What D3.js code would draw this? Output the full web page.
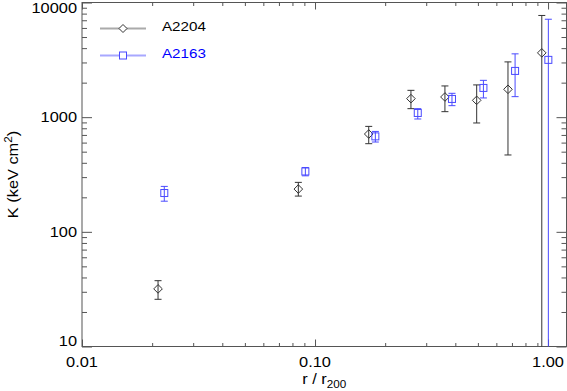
<!DOCTYPE html>
<html><head><meta charset="utf-8">
<script src="https://cdn.jsdelivr.net/npm/d3@7"></script>
<style>
html,body{margin:0;padding:0;background:#fff;}
svg text{font-family:"Liberation Sans",Arial,Helvetica,sans-serif;}
.st{transform-box:fill-box;transform:scaleX(1.17);}
.sc{transform-origin:50% 50%;}
.sr{transform-origin:100% 50%;}
.sl{transform-origin:0% 50%;}
</style></head>
<body>
<script>
// ---- data ----
const seriesNames = ["A2204", "A2163"];
const a2204_r  = [0.0212, 0.0848, 0.170, 0.258, 0.361, 0.494, 0.673, 0.94];
const a2204_K  = [31.8, 236, 713, 1451, 1500, 1402, 1750, 3637];
const a2204_hi = [37.5, 270, 831, 1714, 1872, 1911, 3034, 7709];
const a2204_lo = [25.8, 205, 587, 1186, 1117, 890, 468, 5];
const a2163_r  = [0.02255, 0.0909, 0.1815, 0.276, 0.387, 0.528, 0.722, 1.003];
const a2163_K  = [218, 336, 680, 1088, 1442, 1799, 2531, 3160];
const a2163_hi = [249, 364, 751, 1186, 1614, 2095, 3566, 7145];
const a2163_lo = [185, 308, 607, 964, 1260, 1471, 1510, 5];
const xTickValues = [0.01, 0.1, 1];
const xTickLabels = ["0.01", "0.10", "1.00"];
const yTickValues = [10, 100, 1000, 10000];
const yTickLabels = ["10", "100", "1000", "10000"];
const xDomain = [0.01, 1.2];
const yDomain = [10, 10000];

const W = 567, H = 391;
const L = 82, R = 566.5, T = 2.5, B = 346.5;
const black = "#333", blue = "#4a4aff";

const svg = d3.select("body").append("svg").attr("width", W).attr("height", H);
const x = d3.scaleLog().domain(xDomain).range([L, R]);
const y = d3.scaleLog().domain(yDomain).range([B, T]);

function minors(dom) {
  const out = [];
  for (let e = Math.floor(Math.log10(dom[0])); e <= Math.ceil(Math.log10(dom[1])); e++)
    for (let m = 2; m <= 9; m++) { const v = m * Math.pow(10, e); if (v > dom[0] && v < dom[1]) out.push(v); }
  return out;
}
const xMin = minors(xDomain), yMin = minors(yDomain);
const axCol = "#555";

function styleAxis(g) { g.select(".domain").remove(); g.selectAll("line").attr("stroke", axCol); g.selectAll("text").remove(); }
// ticks
svg.append("g").attr("transform", `translate(0,${B})`).call(d3.axisBottom(x).tickValues(xTickValues).tickSize(-7)).call(styleAxis);
svg.append("g").attr("transform", `translate(0,${B})`).call(d3.axisBottom(x).tickValues(xMin).tickSize(-3.5)).call(styleAxis);
svg.append("g").attr("transform", `translate(0,${T})`).call(d3.axisTop(x).tickValues(xTickValues).tickSize(-7)).call(styleAxis);
svg.append("g").attr("transform", `translate(0,${T})`).call(d3.axisTop(x).tickValues(xMin).tickSize(-3.5)).call(styleAxis);
svg.append("g").attr("transform", `translate(${L},0)`).call(d3.axisLeft(y).tickValues(yTickValues).tickSize(-10)).call(styleAxis);
svg.append("g").attr("transform", `translate(${L},0)`).call(d3.axisLeft(y).tickValues(yMin).tickSize(-5)).call(styleAxis);
svg.append("g").attr("transform", `translate(${R},0)`).call(d3.axisRight(y).tickValues(yTickValues).tickSize(-10)).call(styleAxis);
svg.append("g").attr("transform", `translate(${R},0)`).call(d3.axisRight(y).tickValues(yMin).tickSize(-5)).call(styleAxis);
// frame
svg.append("rect").attr("x", L).attr("y", T).attr("width", R - L).attr("height", B - T)
  .attr("fill", "none").attr("stroke", axCol).attr("stroke-width", 1);

// tick labels
svg.append("g").selectAll("text").data(xTickValues).join("text")
  .attr("class", "st sc").attr("x", d => x(d)).attr("y", 367)
  .attr("text-anchor", "middle").attr("font-size", 14).attr("fill", "#000")
  .text((d, i) => xTickLabels[i]);
svg.append("g").selectAll("text").data(yTickValues).join("text")
  .attr("class", "st sr").attr("x", 77)
  .attr("y", d => Math.min(Math.max(y(d) + 5, T + 10.2), B))
  .attr("text-anchor", "end").attr("font-size", 14).attr("fill", "#000")
  .text((d, i) => yTickLabels[i]);

// axis titles
const xt = svg.append("text").attr("class", "st sc").attr("x", (L + R) / 2).attr("y", 384.5)
  .attr("text-anchor", "middle").attr("font-size", 14).attr("fill", "#000");
xt.append("tspan").text("r / r");
xt.append("tspan").attr("font-size", 10).attr("dy", 3.5).text("200");
const yg = svg.append("g").attr("transform", `translate(18,${(T + B) / 2}) rotate(-90)`);
const yt = yg.append("text").attr("class", "st sc").attr("x", 0).attr("y", 0)
  .attr("text-anchor", "middle").attr("font-size", 14).attr("fill", "#000");
yt.append("tspan").text("K (keV cm");
yt.append("tspan").attr("font-size", 10).attr("dy", -6).text("2");
yt.append("tspan").attr("dy", 6).text(")");

// clip
svg.append("clipPath").attr("id", "clip").append("rect").attr("x", L).attr("y", T).attr("width", R - L).attr("height", B - T);
const plot = svg.append("g").attr("clip-path", "url(#clip)");

function drawSeries(rs, Ks, los, his, col, shape) {
  const data = rs.map((r, i) => ({ r, K: Ks[i], lo: los[i], hi: his[i] }));
  const g = plot.append("g").attr("stroke", col).attr("fill", "none").attr("stroke-width", 1);
  g.selectAll(".eb").data(data).join("line").attr("x1", d => x(d.r)).attr("x2", d => x(d.r))
    .attr("y1", d => y(d.lo)).attr("y2", d => y(d.hi));
  g.selectAll(".ct").data(data).join("line").attr("x1", d => x(d.r) - 3.5).attr("x2", d => x(d.r) + 3.5)
    .attr("y1", d => y(d.hi)).attr("y2", d => y(d.hi));
  g.selectAll(".cb").data(data).join("line").attr("x1", d => x(d.r) - 3.5).attr("x2", d => x(d.r) + 3.5)
    .attr("y1", d => y(d.lo)).attr("y2", d => y(d.lo));
  if (shape === "diamond") {
    g.selectAll(".m").data(data).join("path")
      .attr("d", d => { const cx = x(d.r), cy = y(d.K), s = 4.3; return `M${cx},${cy - s}L${cx + s},${cy}L${cx},${cy + s}L${cx - s},${cy}Z`; });
  } else {
    g.selectAll(".m").data(data).join("rect")
      .attr("x", d => x(d.r) - 3.5).attr("y", d => y(d.K) - 3.5).attr("width", 7).attr("height", 7);
  }
}
drawSeries(a2204_r, a2204_K, a2204_lo, a2204_hi, black, "diamond");
drawSeries(a2163_r, a2163_K, a2163_lo, a2163_hi, blue, "square");

// legend
const leg = svg.append("g");
const legY = [28.5, 55.5];
leg.append("line").attr("x1", 100).attr("x2", 146).attr("y1", legY[0]).attr("y2", legY[0]).attr("stroke", "#aaa").attr("stroke-width", 2);
leg.append("path").attr("d", `M123,${legY[0] - 4}L127,${legY[0]}L123,${legY[0] + 4}L119,${legY[0]}Z`).attr("fill", "#fff").attr("stroke", black);
leg.append("line").attr("x1", 100).attr("x2", 146).attr("y1", legY[1]).attr("y2", legY[1]).attr("stroke", "#a8a8ff").attr("stroke-width", 2);
leg.append("rect").attr("x", 119.5).attr("y", legY[1] - 3.5).attr("width", 7).attr("height", 7).attr("fill", "#fff").attr("stroke", blue);
leg.append("text").attr("class", "st sl").attr("x", 162).attr("y", legY[0] + 2.5).attr("font-size", 13).attr("fill", "#000").text(seriesNames[0]);
leg.append("text").attr("class", "st sl").attr("x", 162).attr("y", legY[1] + 2.5).attr("font-size", 13).attr("fill", "#0000ff").text(seriesNames[1]);
</script>
</body></html>
